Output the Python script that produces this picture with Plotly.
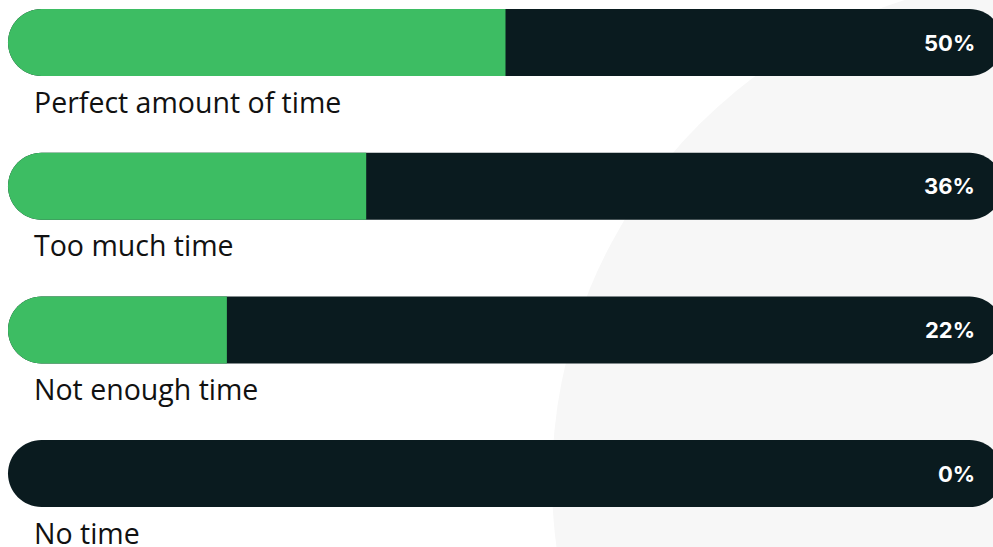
import plotly.graph_objects as go

# ---- data ----
categories = ["Perfect amount of time", "Too much time", "Not enough time", "No time"]
values = [50, 36, 22, 0]
value_labels = [f"{v}%" for v in values]

# ---- style ----
GREEN = "#3dbd63"
DARK = "#0a1b1f"
BG_CIRCLE = "#f7f7f7"
W, H = 993, 547

PX_PER_PCT = 9.95          # horizontal scale
X0_PX = 8                  # pixel position of 0%
ROW_PX = 143.7             # vertical distance between rows
ROW0_PX = 42.5             # pixel centre of first bar
HALF_PX = 33.5             # half bar height in px

x_range = [-X0_PX / PX_PER_PCT, (W - X0_PX) / PX_PER_PCT]
y_range = [(H - ROW0_PX) / ROW_PX, -ROW0_PX / ROW_PX]
h = HALF_PX / ROW_PX
rx = HALF_PX / PX_PER_PCT
K = 0.5523


def pill(x0, x1, yc, round_right=True):
    p = f"M {x0+rx},{yc-h} "
    if round_right:
        p += f"L {x1-rx},{yc-h} "
        p += f"C {x1-rx+K*rx},{yc-h} {x1},{yc-K*h} {x1},{yc} "
        p += f"C {x1},{yc+K*h} {x1-rx+K*rx},{yc+h} {x1-rx},{yc+h} "
    else:
        p += f"L {x1},{yc-h} L {x1},{yc+h} "
    p += f"L {x0+rx},{yc+h} "
    p += f"C {x0+rx-K*rx},{yc+h} {x0},{yc+K*h} {x0},{yc} "
    p += f"C {x0},{yc-K*h} {x0+rx-K*rx},{yc-h} {x0+rx},{yc-h} Z"
    return p


fig = go.Figure()
# invisible trace to set up axes
fig.add_trace(go.Scatter(x=[0, 100], y=[0, 3], mode="markers",
                         marker=dict(opacity=0), hoverinfo="skip", showlegend=False))

shapes = []
# background decorative circle (paper coordinates)
cx, cy, r = 1055, 480, 503
shapes.append(dict(type="circle", xref="paper", yref="paper", layer="below",
                   x0=(cx - r) / W, x1=(cx + r) / W,
                   y0=(H - cy - r) / H, y1=(H - cy + r) / H,
                   fillcolor=BG_CIRCLE, line=dict(width=0)))

annotations = []
for i, (cat, v, lab) in enumerate(zip(categories, values, value_labels)):
    shapes.append(dict(type="path", xref="x", yref="y", path=pill(0, 100, i),
                       fillcolor=DARK, line=dict(width=0)))
    if v > 0:
        shapes.append(dict(type="path", xref="x", yref="y",
                           path=pill(0, v, i, round_right=False),
                           fillcolor=GREEN, line=dict(width=0)))
    annotations.append(dict(x=(977 - X0_PX) / PX_PER_PCT, y=i, xref="x", yref="y",
                            text=f"<b>{lab}</b>",
                            showarrow=False, xanchor="right", yanchor="middle",
                            font=dict(family="Inter", size=22, color="white")))
    annotations.append(dict(x=(32 - X0_PX) / PX_PER_PCT, y=i + 59 / ROW_PX, xref="x", yref="y",
                            text=cat, showarrow=False, xanchor="left", yanchor="middle",
                            font=dict(family="Open Sans", size=28.5, color="#111111")))

fig.update_layout(
    width=W, height=H,
    margin=dict(l=0, r=0, t=0, b=0),
    paper_bgcolor="white", plot_bgcolor="rgba(0,0,0,0)",
    xaxis=dict(range=x_range, visible=False, fixedrange=True),
    yaxis=dict(range=y_range, visible=False, fixedrange=True),
    shapes=shapes, annotations=annotations,
    showlegend=False,
)

fig.write_html("out.html", config={"displayModeBar": False},
               post_script="document.body.style.margin='0';document.body.style.overflow='hidden';")
